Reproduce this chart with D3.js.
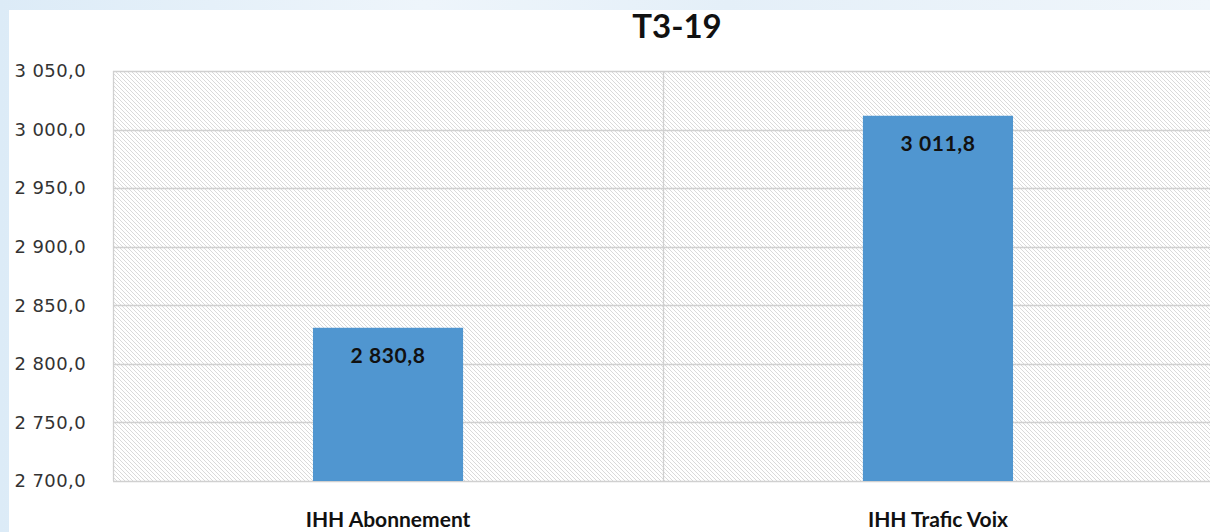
<!DOCTYPE html>
<html>
<head>
<meta charset="utf-8">
<script src="https://cdn.jsdelivr.net/npm/d3@7"></script>
<style>
  html, body { margin: 0; padding: 0; background: #fff; overflow: hidden; }
  svg { display: block; }
</style>
</head>
<body>
<svg id="chart" width="1210" height="532"></svg>
<script>
const title = "T3-19";
const categories = ["IHH Abonnement", "IHH Trafic Voix"];
const values = [2830.8, 3011.8];
const yTicks = [2700, 2750, 2800, 2850, 2900, 2950, 3000, 3050];
const yDomain = [2700, 3050];

const W = 1210, H = 532;
const svg = d3.select("#chart");
const defs = svg.append("defs");

// background texture (light blue) and white panel
const grad = defs.append("linearGradient").attr("id", "bgGrad")
  .attr("x1", "0").attr("y1", "0").attr("x2", "1").attr("y2", "0");
grad.append("stop").attr("offset", "0%").attr("stop-color", "#dcebf7");
grad.append("stop").attr("offset", "35%").attr("stop-color", "#eef5fb");
grad.append("stop").attr("offset", "60%").attr("stop-color", "#e4eff8");
grad.append("stop").attr("offset", "100%").attr("stop-color", "#f0f6fb");
svg.append("rect").attr("width", W).attr("height", H).attr("fill", "url(#bgGrad)");
svg.append("rect").attr("x", 9).attr("y", 10).attr("width", W - 9).attr("height", H - 10).attr("fill", "#fff");

// hatch pattern
const pat = defs.append("pattern").attr("id", "hatch")
  .attr("patternUnits", "userSpaceOnUse").attr("width", 4).attr("height", 4);
pat.append("rect").attr("width", 4).attr("height", 4).attr("fill", "#fff");
pat.append("path").attr("d", "M-1,-1 L5,5 M-1,3 L1,5 M3,-1 L5,1")
  .attr("stroke", "#d6d6d6").attr("stroke-width", 0.9);

const plot = { left: 113, right: 1213, top: 71, bottom: 481 };

const x = d3.scaleBand().domain(categories)
  .range([plot.left, plot.right])
  .paddingInner(0.727).paddingOuter(0.3636);
const y = d3.scaleLinear().domain(yDomain).range([plot.bottom, plot.top]);

const fr = d3.formatLocale({ decimal: ",", thousands: "\u00a0", grouping: [3], currency: ["", " €"] });
const fmt = fr.format(",.1f");

// plot background
svg.append("rect").attr("x", plot.left).attr("y", plot.top)
  .attr("width", plot.right - plot.left).attr("height", plot.bottom - plot.top)
  .attr("fill", "url(#hatch)");

// horizontal gridlines
svg.append("g").selectAll("line").data(yTicks).join("line")
  .attr("x1", plot.left).attr("x2", plot.right)
  .attr("y1", d => Math.round(y(d)) + 0.5).attr("y2", d => Math.round(y(d)) + 0.5)
  .attr("stroke", "#d0d0d0").attr("stroke-width", 1.3);

// vertical category boundary lines
const step = x.step();
const bounds = [plot.left, x(categories[0]) + x.bandwidth() / 2 + step / 2];
svg.append("g").selectAll("line").data(bounds).join("line")
  .attr("x1", d => Math.round(d) + 0.5).attr("x2", d => Math.round(d) + 0.5)
  .attr("y1", plot.top).attr("y2", plot.bottom)
  .attr("stroke", "#d0d0d0").attr("stroke-width", 1.3);

// y axis labels
const yAxis = d3.axisLeft(y).tickValues(yTicks).tickSize(0).tickPadding(0).tickFormat(fmt);
const gy = svg.append("g").attr("transform", "translate(86,0)").call(yAxis);
gy.select(".domain").remove();
gy.selectAll("text")
  .attr("font-family", "'DejaVu Sans', sans-serif")
  .attr("font-size", 18).attr("font-weight", 400).attr("fill", "#333")
  .attr("letter-spacing", "0.4");

// bars
svg.append("g").selectAll("rect").data(values).join("rect")
  .attr("x", (d, i) => x(categories[i]))
  .attr("width", x.bandwidth())
  .attr("y", d => y(d))
  .attr("height", d => y(yDomain[0]) - y(d))
  .attr("fill", "#5096d0");

// value labels
svg.append("g").selectAll("text").data(values).join("text")
  .attr("x", (d, i) => x(categories[i]) + x.bandwidth() / 2)
  .attr("y", d => y(d) + 35)
  .attr("text-anchor", "middle")
  .attr("font-family", "Lato, 'Noto Sans', sans-serif")
  .attr("font-size", 21).attr("font-weight", 700).attr("fill", "#111")
  .attr("letter-spacing", "0.6")
  .text(d => fmt(d));

// x axis labels
const xAxis = d3.axisBottom(x).tickSize(0).tickPadding(0);
const gx = svg.append("g").attr("transform", `translate(0,${plot.bottom + 46})`).call(xAxis);
gx.select(".domain").remove();
gx.selectAll("text")
  .attr("font-family", "Lato, 'Noto Sans', sans-serif")
  .attr("font-size", 21).attr("font-weight", 700).attr("fill", "#111")
  .attr("dy", 0);

// title
svg.append("text").attr("x", 677).attr("y", 38)
  .attr("text-anchor", "middle")
  .attr("font-family", "Lato, 'Noto Sans', sans-serif")
  .attr("font-size", 33).attr("font-weight", 700).attr("fill", "#111")
  .text(title);
</script>
</body>
</html>
